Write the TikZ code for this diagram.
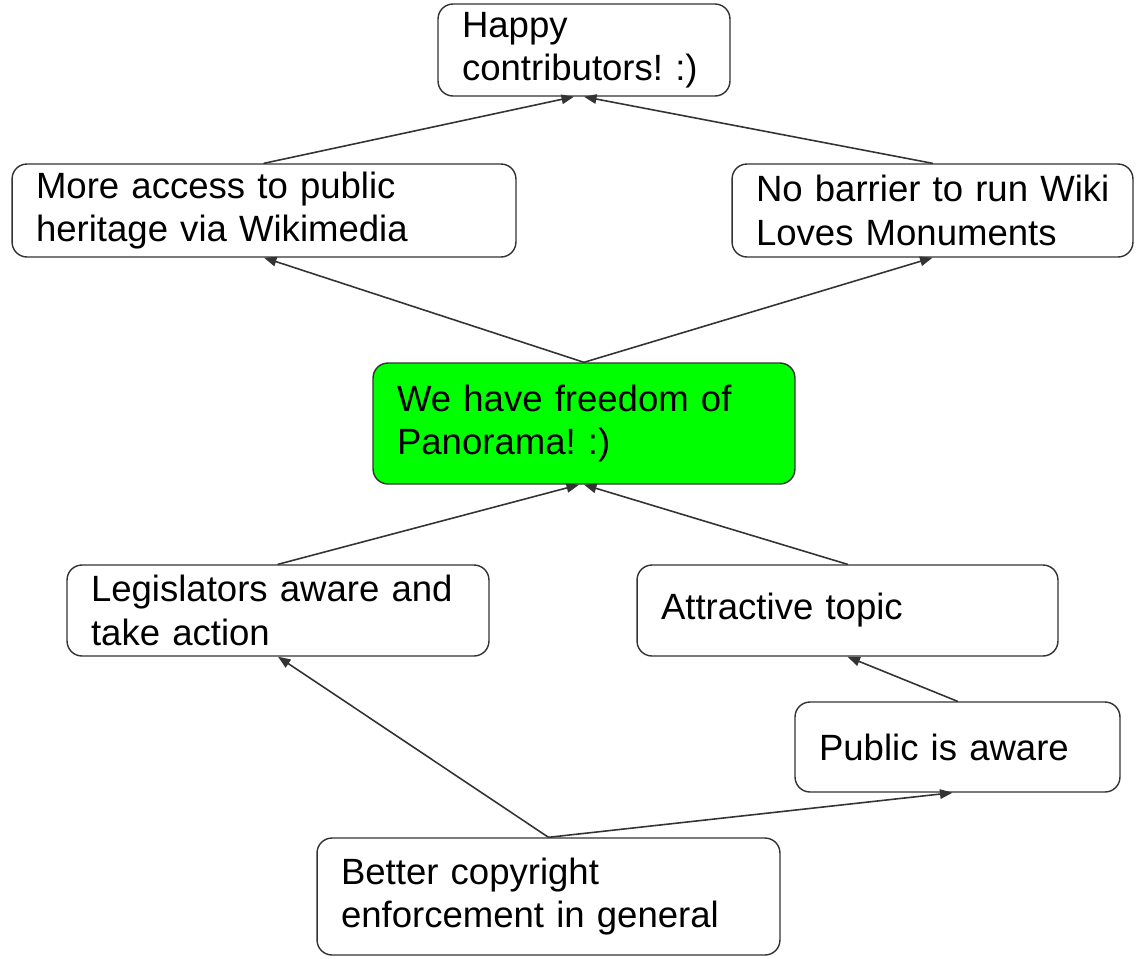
\documentclass[tikz,border=0pt]{standalone}
\usepackage{fontspec}
\setmainfont{Liberation Sans}
\usetikzlibrary{arrows.meta}
\usepackage{xcolor}
\definecolor{fopgreen}{HTML}{00FF00}
\definecolor{edgegray}{HTML}{333333}
\frenchspacing

\begin{document}
\begin{tikzpicture}[x=0.02cm,y=-0.02cm,>={Triangle[length=2.5mm,width=1.9mm]},
  font=\fontsize{20.8pt}{24.6pt}\selectfont,line cap=round,
  box/.style={draw=edgegray,line width=0.8pt,rounded corners=0.3cm,align=left,inner xsep=0pt,inner ysep=0pt},
  link/.style={->,draw=edgegray,line width=0.9pt}]
\useasboundingbox (0,0) rectangle (1143,958);
% goal
\node[box,minimum width=5.84cm,minimum height=1.84cm,text width=4.88cm] (happy) at (584,50) {\mbox{Happy}\\\mbox{contributors! :)}};
% outcomes
\node[box,minimum width=10.08cm,minimum height=1.86cm,text width=9.12cm] (access) at (264,210.5) {\mbox{More access to public}\\\mbox{heritage via Wikimedia}};
\node[box,minimum width=8.02cm,minimum height=1.86cm,text width=7.06cm] (barrier) at (932.5,210.5) {\mbox{No barrier to run Wiki}\\\mbox{Loves Monuments}};
\node[box,fill=fopgreen,minimum width=8.44cm,minimum height=2.42cm,text width=7.48cm] (fop) at (584,423.5) {\mbox{We have freedom of}\\\mbox{Panorama! :)}};
% preconditions
\node[box,minimum width=8.44cm,minimum height=1.82cm,text width=7.48cm] (legis) at (278,610.5) {\mbox{Legislators aware and}\\\mbox{take action}};
\node[box,minimum width=8.42cm,minimum height=1.82cm,text width=7.46cm] (topic) at (847.5,610.5) {Attractive topic};
\node[box,minimum width=6.5cm,minimum height=1.8cm,text width=5.54cm] (public) at (957.5,747) {Public is aware};
\node[box,minimum width=9.26cm,minimum height=2.34cm,text width=8.3cm] (enforce) at (548.5,896.5) {\mbox{Better copyright}\\\mbox{enforcement in general}};
% links
\draw[link] (access.north) -- ([xshift=-0.2cm]happy.south);
\draw[link] (barrier.north) -- (happy.south);
\draw[link] (fop.north) -- (access.south);
\draw[link] (fop.north) -- (barrier.south);
\draw[link] (legis.north) -- ([xshift=-0.1cm]fop.south);
\draw[link] (topic.north) -- (fop.south);
\draw[link] (enforce.north) -- (legis.south);
\draw[link] (enforce.north) -- ([xshift=-0.1cm]public.south);
\draw[link] (public.north) -- (topic.south);
\end{tikzpicture}
\end{document}
